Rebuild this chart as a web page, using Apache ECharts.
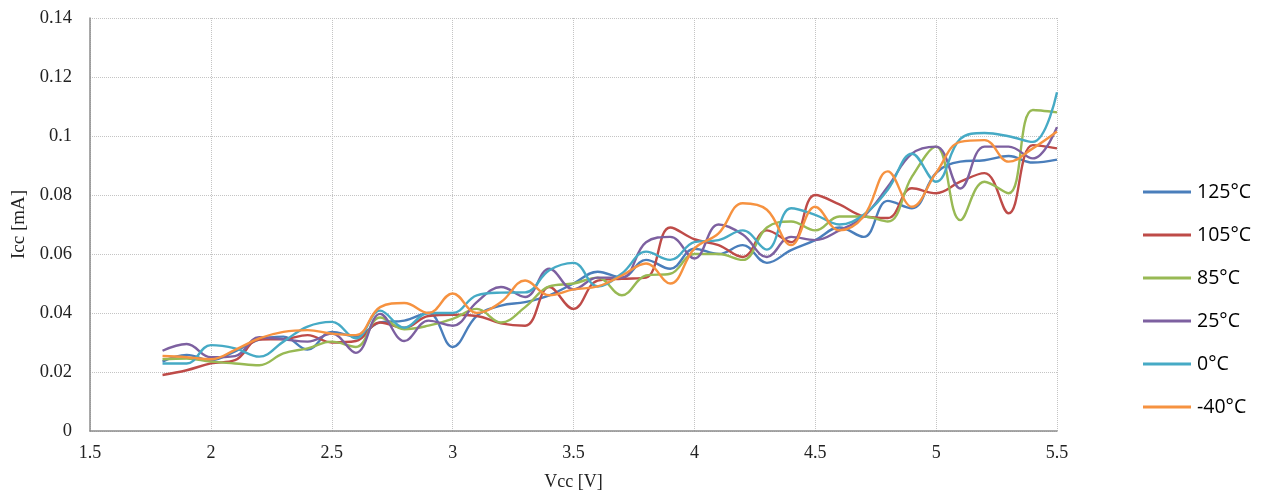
<!DOCTYPE html>
<html lang="en">
<head>
    <meta charset="UTF-8">
    <title>Icc vs Vcc</title>
    <script src="https://cdn.jsdelivr.net/npm/echarts@6/dist/echarts.min.js"></script>
    <style>
        html, body, #main {
            padding: 0px;
            margin: 0px;
            width: 1270px;
            height: 497px;
            background: #fff;
        }
    </style>
</head>
<body>
    <div id="main"></div>
    <script type="text/javascript">
        // Vcc steps (V)
        var vcc = [1.8, 1.9, 2.0, 2.1, 2.2, 2.3, 2.4, 2.5, 2.6, 2.7, 2.8, 2.9, 3.0, 3.1, 3.2, 3.3, 3.4, 3.5, 3.6,
            3.7, 3.8, 3.9, 4.0, 4.1, 4.2, 4.3, 4.4, 4.5, 4.6, 4.7, 4.8, 4.9, 5.0, 5.1, 5.2, 5.3, 5.4, 5.5];

        var names = ['125°C', '105°C', '85°C', '25°C', '0°C', '-40°C'];
        var colors = ['#4A7EBB', '#BE4B48', '#98B954', '#7D60A0', '#46AAC5', '#F69240'];

        // Icc (mA) per temperature
        var t125 = [0.0235, 0.0258, 0.024, 0.027, 0.031, 0.032, 0.0276, 0.0336, 0.032, 0.0368, 0.0374, 0.040, 0.0285,
            0.039, 0.0425, 0.0437, 0.046, 0.050, 0.054, 0.052, 0.058, 0.055, 0.0618, 0.060, 0.063, 0.057, 0.0613,
            0.0647, 0.069, 0.0658, 0.078, 0.0755, 0.0875, 0.0913, 0.0918, 0.0932, 0.091, 0.092];
        var t105 = [0.019, 0.0206, 0.0229, 0.024, 0.031, 0.0311, 0.0325, 0.030, 0.0305, 0.0368, 0.035, 0.039, 0.0394,
            0.039, 0.0365, 0.0357, 0.0488, 0.0414, 0.051, 0.0516, 0.052, 0.069, 0.065, 0.063, 0.059, 0.068, 0.064,
            0.080, 0.0768, 0.0728, 0.0722, 0.0823, 0.0806, 0.0845, 0.0874, 0.0738, 0.0969, 0.0958];
        var t85 = [0.0243, 0.0246, 0.0235, 0.0229, 0.0223, 0.0263, 0.028, 0.0303, 0.0285, 0.0385, 0.0345, 0.0357, 0.038,
            0.0414, 0.0368, 0.042, 0.049, 0.050, 0.052, 0.046, 0.0527, 0.0533, 0.060, 0.060, 0.058, 0.069, 0.071,
            0.068, 0.0727, 0.0727, 0.071, 0.0862, 0.0964, 0.0715, 0.0845, 0.0806, 0.1088, 0.108];
        var t25 = [0.0272, 0.0295, 0.025, 0.0254, 0.0318, 0.0311, 0.0303, 0.033, 0.0265, 0.0397, 0.0305, 0.0374, 0.0357,
            0.0437, 0.0488, 0.0454, 0.055, 0.048, 0.052, 0.052, 0.064, 0.0658, 0.0585, 0.070, 0.0666, 0.059, 0.0658,
            0.0647, 0.068, 0.0727, 0.0828, 0.094, 0.0964, 0.0822, 0.0964, 0.0964, 0.0924, 0.103];
        var t0 = [0.0229, 0.0229, 0.0291, 0.028, 0.0252, 0.0303, 0.0354, 0.037, 0.0314, 0.0408, 0.035, 0.040, 0.040,
            0.046, 0.0469, 0.047, 0.0545, 0.057, 0.049, 0.0534, 0.0608, 0.058, 0.064, 0.0647, 0.068, 0.0615, 0.0755,
            0.0733, 0.070, 0.0733, 0.0818, 0.094, 0.0845, 0.099, 0.101, 0.0999, 0.098, 0.1148];
        var tm40 = [0.0254, 0.025, 0.0243, 0.0275, 0.0314, 0.0336, 0.0342, 0.033, 0.0325, 0.042, 0.0434, 0.040, 0.0466,
            0.040, 0.0437, 0.051, 0.046, 0.048, 0.049, 0.0527, 0.0568, 0.050, 0.0618, 0.067, 0.0772, 0.075, 0.063,
            0.076, 0.068, 0.0727, 0.088, 0.076, 0.0875, 0.098, 0.0986, 0.0913, 0.0958, 0.1015];

        var allData = [t125, t105, t85, t25, t0, tm40];

        var serif = '"Liberation Serif", "Times New Roman", serif';
        var chart = echarts.init(document.getElementById('main'));

        var series = names.map(function (n, i) {
            return {
                name: n,
                type: 'line',
                smooth: 0.4,
                showSymbol: false,
                symbol: 'none',
                lineStyle: { width: 2.4, color: colors[i] },
                itemStyle: { color: colors[i] },
                data: vcc.map(function (v, k) { return [v, allData[i][k]]; })
            };
        });

        var option = {
            animation: false,
            backgroundColor: '#fff',
            grid: { left: 90, right: 213, top: 18, bottom: 66, containLabel: false },
            legend: {
                orient: 'vertical',
                left: 1143,
                top: 181,
                padding: 0,
                icon: 'rect',
                itemWidth: 48,
                itemHeight: 3,
                itemGap: 21,
                textStyle: {
                    fontFamily: '"Open Sans", "Noto Sans", sans-serif',
                    fontSize: 19.5,
                    lineHeight: 22,
                    color: '#000',
                    padding: [0, 0, 0, 1]
                },
                data: names
            },
            xAxis: {
                type: 'value',
                min: 1.5,
                max: 5.5,
                interval: 0.5,
                name: 'Vcc [V]',
                nameLocation: 'middle',
                nameGap: 42,
                nameTextStyle: { fontFamily: serif, fontSize: 18, color: '#222' },
                axisLine: { show: true, lineStyle: { color: '#8c8c8c', width: 1.5 } },
                axisTick: { show: false },
                axisLabel: { margin: 13, fontFamily: serif, fontSize: 18, color: '#222' },
                splitLine: { show: true, lineStyle: { color: '#c4c4c4', type: 'dotted', width: 1 } }
            },
            yAxis: {
                type: 'value',
                min: 0,
                max: 0.14,
                interval: 0.02,
                name: 'Icc [mA]',
                nameLocation: 'middle',
                nameGap: 61,
                nameTextStyle: { fontFamily: serif, fontSize: 19, color: '#222' },
                axisLine: { show: true, lineStyle: { color: '#8c8c8c', width: 1.5 } },
                axisTick: { show: false },
                axisLabel: { margin: 18, fontFamily: serif, fontSize: 18.5, color: '#222' },
                splitLine: { show: true, lineStyle: { color: '#c4c4c4', type: 'dotted', width: 1 } }
            },
            series: series
        };

        chart.setOption(option);
    </script>
</body>
</html>
